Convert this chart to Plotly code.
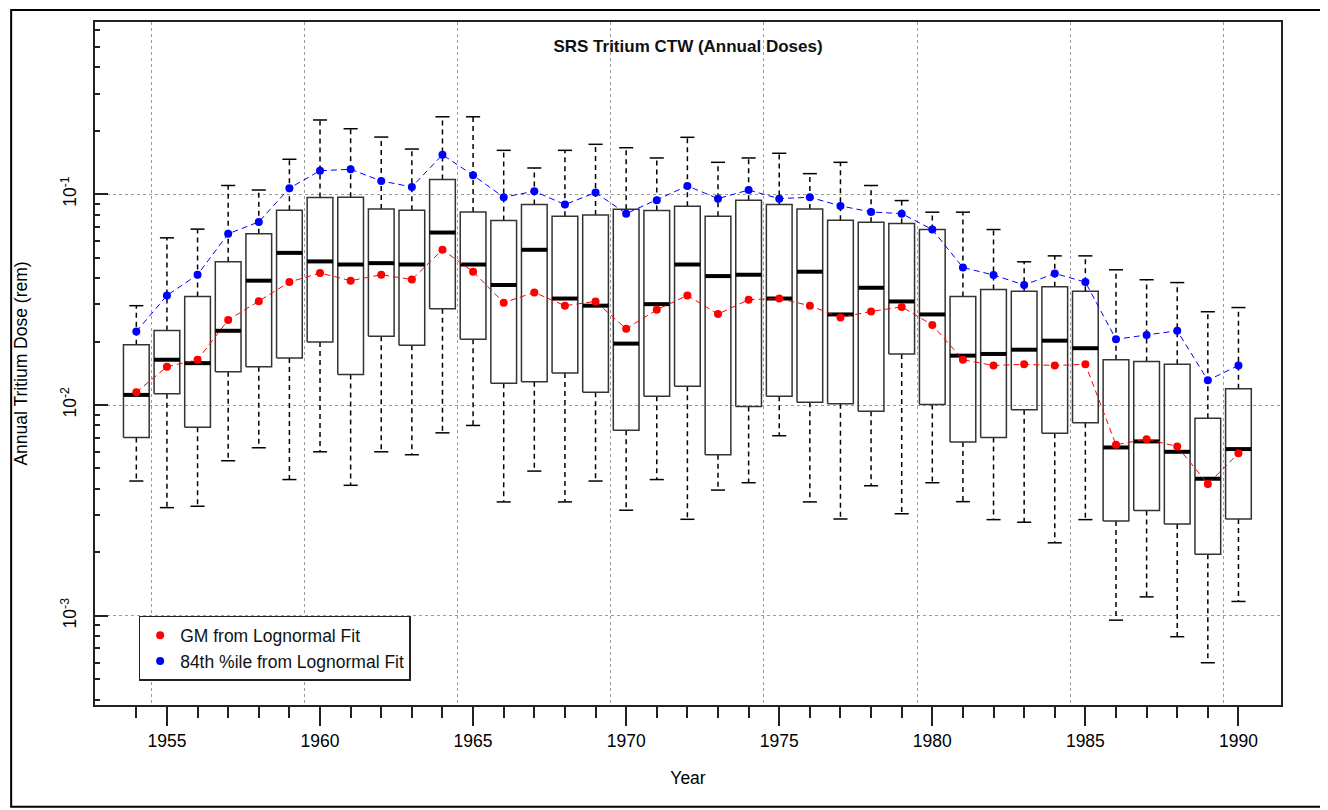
import plotly.graph_objects as go

# SRS Tritium CTW annual doses (rem)
years = list(range(1954, 1991))

whisker_hi = [0.0296, 0.0621, 0.0683, 0.110, 0.1047, 0.1465, 0.225, 0.2045, 0.1867, 0.1638,
              0.233, 0.233, 0.1615, 0.1332, 0.1615, 0.1725, 0.1662, 0.1486, 0.1862, 0.1417,
              0.1486, 0.1564, 0.1252, 0.1417, 0.110, 0.0933, 0.0822, 0.0822, 0.0680, 0.0478,
              0.0510, 0.0510, 0.0438, 0.0393, 0.0381, 0.0277, 0.0290]
q3 = [0.0193, 0.0226, 0.0327, 0.0478, 0.0649, 0.0840, 0.0964, 0.0968, 0.0852, 0.0840,
      0.1173, 0.0824, 0.0750, 0.0893, 0.0787, 0.0798, 0.0849, 0.0836, 0.0877, 0.0787,
      0.0937, 0.0893, 0.0852, 0.0753, 0.0737, 0.0726, 0.0680, 0.0327, 0.0353, 0.0347,
      0.0364, 0.0347, 0.0164, 0.0161, 0.0156, 0.00866, 0.01193]
median = [0.01117, 0.0164, 0.0158, 0.0225, 0.0389, 0.0527, 0.0480, 0.0464, 0.0471, 0.0464,
          0.0658, 0.0464, 0.0371, 0.0545, 0.0320, 0.0296, 0.01956, 0.0301, 0.0464, 0.0409,
          0.0415, 0.0320, 0.0429, 0.0269, 0.0360, 0.0310, 0.0269, 0.01715, 0.01747, 0.0183,
          0.0202, 0.0186, 0.00629, 0.00672, 0.0060, 0.00447, 0.00618]
q1 = [0.00702, 0.0113, 0.00785, 0.0144, 0.0152, 0.0167, 0.0199, 0.01394, 0.0212, 0.0192,
      0.0286, 0.0205, 0.0127, 0.0129, 0.0142, 0.0115, 0.0076, 0.0110, 0.01228, 0.00581,
      0.00984, 0.0110, 0.0103, 0.01013, 0.00935, 0.01747, 0.01005, 0.00667, 0.00702, 0.0095,
      0.00735, 0.00824, 0.00282, 0.00316, 0.00273, 0.00196, 0.00288]
whisker_lo = [0.00436, 0.00326, 0.00331, 0.00544, 0.00627, 0.00443, 0.0060, 0.00416, 0.0060, 0.00581,
              0.00738, 0.0080, 0.00347, 0.00486, 0.00347, 0.00436, 0.00317, 0.00443, 0.00287, 0.00395,
              0.00428, 0.00715, 0.00347, 0.00288, 0.00414, 0.00305, 0.00428, 0.00348, 0.00286, 0.00278,
              0.00222, 0.00286, 0.000954, 0.00123, 0.000796, 0.000599, 0.00117]
gm_fit = [0.0115, 0.0152, 0.0164, 0.0253, 0.0311, 0.0383, 0.0423, 0.0389, 0.0415, 0.0394,
          0.0545, 0.0429, 0.0306, 0.0342, 0.0296, 0.0310, 0.0230, 0.0283, 0.0331, 0.0270,
          0.0316, 0.0320, 0.0296, 0.0260, 0.0278, 0.0292, 0.0240, 0.0164, 0.0154, 0.0156,
          0.0154, 0.0156, 0.00648, 0.00689, 0.00636, 0.00422, 0.00590]
p84_fit = [0.0223, 0.0331, 0.0415, 0.0649, 0.0739, 0.1068, 0.1293, 0.1313, 0.1156, 0.1083,
           0.154, 0.123, 0.0968, 0.1033, 0.0893, 0.1018, 0.0809, 0.0937, 0.1095, 0.0953,
           0.1047, 0.0953, 0.0968, 0.0880, 0.0824, 0.0809, 0.0680, 0.0449, 0.0414, 0.0371,
           0.0421, 0.0383, 0.0205, 0.0215, 0.0225, 0.0131, 0.0154]

label_years = [1955, 1960, 1965, 1970, 1975, 1980, 1985, 1990]
grid_years = [1954.5, 1959.5, 1964.5, 1969.5, 1974.5, 1979.5, 1984.5, 1989.5]
decades = [1e-3, 1e-2, 1e-1]
decade_text = ["10<sup>-3</sup>", "10<sup>-2</sup>", "10<sup>-1</sup>"]

FONT = "Liberation Sans, Arial, sans-serif"
half_box = 0.42
half_cap = 0.23
x_range = [1952.65, 1991.39]

# build segment paths for the boxplot pieces
wx, wy, cx, cy, bx, by, mx, my = [], [], [], [], [], [], [], []
for i, yr in enumerate(years):
    wx += [yr, yr, None, yr, yr, None]
    wy += [q3[i], whisker_hi[i], None, q1[i], whisker_lo[i], None]
    cx += [yr - half_cap, yr + half_cap, None, yr - half_cap, yr + half_cap, None]
    cy += [whisker_hi[i], whisker_hi[i], None, whisker_lo[i], whisker_lo[i], None]
    bx += [yr - half_box, yr + half_box, yr + half_box, yr - half_box, yr - half_box, None]
    by += [q1[i], q1[i], q3[i], q3[i], q1[i], None]
    mx += [yr - half_box, yr + half_box, None]
    my += [median[i], median[i], None]

fig = go.Figure()

# whiskers (dashed) and caps
fig.add_trace(go.Scatter(x=wx, y=wy, mode='lines', line=dict(color='black', width=1.5, dash='5px,4px'),
                         showlegend=False, hoverinfo='skip'))
fig.add_trace(go.Scatter(x=cx, y=cy, mode='lines', line=dict(color='black', width=1.5),
                         showlegend=False, hoverinfo='skip'))
# boxes
fig.add_trace(go.Scatter(x=bx, y=by, mode='lines', line=dict(color='#333333', width=1.5),
                         showlegend=False, hoverinfo='skip'))
# medians
fig.add_trace(go.Scatter(x=mx, y=my, mode='lines', line=dict(color='black', width=4),
                         showlegend=False, hoverinfo='skip'))

# lognormal fit lines + points
fig.add_trace(go.Scatter(x=years, y=gm_fit, mode='lines+markers',
                         line=dict(color='red', width=1, dash='6px,4px'),
                         marker=dict(color='red', size=8), showlegend=False))
fig.add_trace(go.Scatter(x=years, y=p84_fit, mode='lines+markers',
                         line=dict(color='blue', width=1, dash='6px,4px'),
                         marker=dict(color='blue', size=8), showlegend=False))

# legend entries (dots only)
fig.add_trace(go.Scatter(x=[None], y=[None], mode='markers', marker=dict(color='red', size=8),
                         name='GM from Lognormal Fit'))
fig.add_trace(go.Scatter(x=[None], y=[None], mode='markers', marker=dict(color='blue', size=8),
                         name='84th %ile from Lognormal Fit'))

# dummy trace so the grid overlay axis is drawn
fig.add_trace(go.Scatter(x=[None], y=[None], xaxis='x2', showlegend=False, hoverinfo='skip'))

minor_y = [k * d for d in [1e-4, 1e-3, 1e-2, 1e-1] for k in range(2, 10)]

# page body has an 8px margin, so the figure is 8px smaller and margins shifted
fig.update_layout(
    width=1320, height=802,
    margin=dict(l=85, r=47, t=13, b=105),
    paper_bgcolor='white', plot_bgcolor='white',
    font=dict(family=FONT, size=17.5, color='black'),
    title=dict(text='<b>SRS Tritium CTW (Annual Doses)</b>', x=0.5, xref='paper', xanchor='center',
               y=1 - 38 / 802, yref='container', yanchor='middle', font=dict(size=17, color='#111111')),
    xaxis=dict(range=x_range, tickmode='array', tickvals=label_years, ticks='outside', ticklen=19,
               tickwidth=1.5, tickcolor='#222222', showgrid=False, zeroline=False,
               showline=True, linecolor='#222222', linewidth=1.5, mirror=True,
               minor=dict(tickmode='array', tickvals=years, ticks='outside', ticklen=11,
                          tickwidth=1.5, tickcolor='#222222', showgrid=False),
               title=dict(text='Year', standoff=22, font=dict(size=17.5))),
    xaxis2=dict(range=x_range, overlaying='x', anchor='y', tickmode='array', tickvals=grid_years,
                showgrid=True, griddash='dot', gridcolor='#9a9a9a', gridwidth=1,
                showticklabels=False, ticks='', showline=False, zeroline=False),
    yaxis=dict(type='log', range=[-3.423, -0.183], tickmode='array', tickvals=decades,
               ticktext=decade_text, tickangle=-90, ticks='inside', ticklen=13, tickwidth=1.5,
               tickcolor='#222222', ticklabelstandoff=10,
               showgrid=True, griddash='dot', gridcolor='#9a9a9a', gridwidth=1, zeroline=False,
               showline=True, linecolor='#222222', linewidth=1.5, mirror=True,
               minor=dict(tickmode='array', tickvals=minor_y, ticks='inside', ticklen=5,
                          tickwidth=1.5, tickcolor='#222222', showgrid=False),
               title=dict(text='Annual Tritium Dose (rem)', standoff=26, font=dict(size=17.5))),
    legend=dict(x=0.0368, y=0.1305, xanchor='left', yanchor='top', bgcolor='white',
                bordercolor='#222222', borderwidth=1.5, font=dict(size=17.5, color='#111111'),
                itemwidth=30, tracegroupgap=0),
    showlegend=True,
    # outer frame around the whole image
    shapes=[dict(type='rect', xref='paper', yref='paper', x0=-0.0707, x1=1.0379, y0=-0.149, y1=1.0175,
                 line=dict(color='black', width=2), fillcolor='rgba(0,0,0,0)', layer='below')],
)

fig.write_html("out.html")
